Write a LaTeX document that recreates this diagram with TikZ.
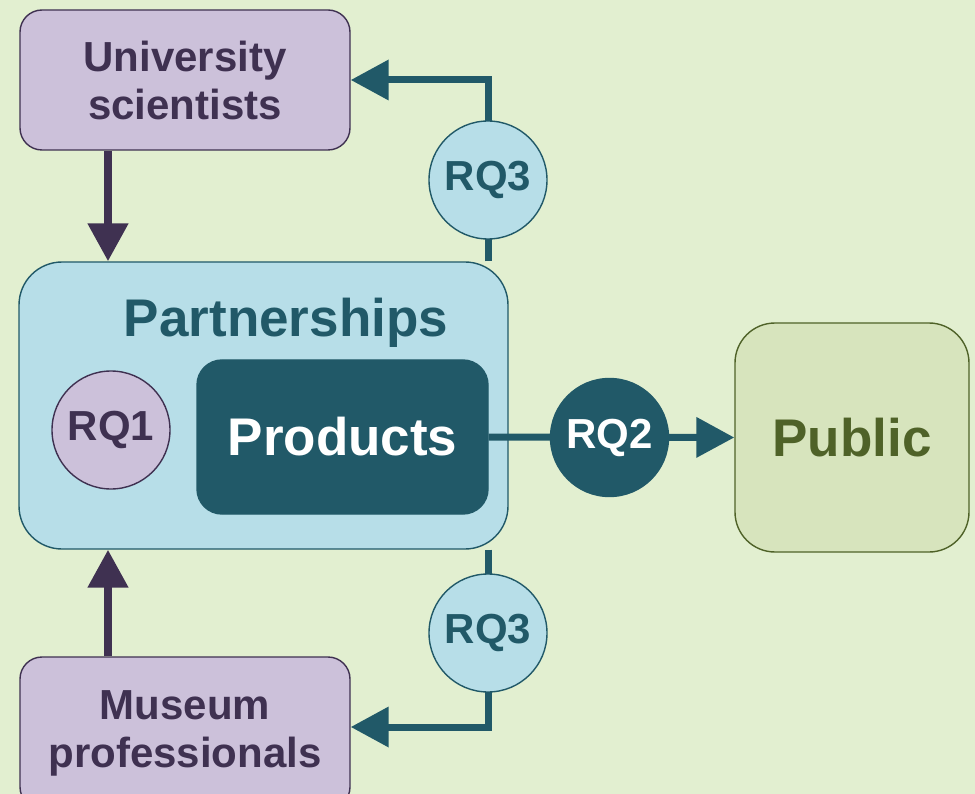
\documentclass[tikz,border=0pt]{standalone}
\usepackage{fontspec}
\setmainfont{Liberation Sans}
\usetikzlibrary{arrows.meta}
\definecolor{bgcol}{HTML}{E2EFD0}
\definecolor{purfill}{HTML}{CCC1DA}
\definecolor{purdark}{HTML}{3F3151}
\definecolor{bluefill}{HTML}{B7DEE8}
\definecolor{tealdark}{HTML}{215968}
\definecolor{greenfill}{HTML}{D7E4BD}
\definecolor{greendark}{HTML}{4F6228}
\pgfdeclarelayer{back}
\pgfsetlayers{back,main}
\tikzset{
  outline/.style={draw, line width=1.4pt, inner sep=0pt},
  purplebox/.style={outline, fill=purfill, draw=purdark, text=purdark,
    rounded corners=22pt, minimum width=330pt, minimum height=140pt,
    align=center, font=\fontsize{42}{48}\selectfont\bfseries},
  rqcircle/.style={outline, circle, minimum size=118pt,
    font=\fontsize{42}{48}\selectfont\bfseries},
  bigtext/.style={font=\fontsize{53}{60}\selectfont\bfseries},
  tealline/.style={draw=tealdark, line width=7pt,
    -{Triangle[length=38pt,width=39pt]}},
  purpleline/.style={draw=purdark, line width=8pt,
    -{Triangle[length=38pt,width=39pt]}},
}
\begin{document}
\begin{tikzpicture}[x=1pt,y=-1pt]
  \useasboundingbox (0,0) rectangle (975,794);

  % outer actors
  \node[purplebox] (US) at (185,80) {University\\scientists};
  \node[purplebox, minimum height=152pt] (MP) at (185,733) {Museum\\professionals};

  % partnership block with its product
  \node[outline, fill=bluefill, draw=tealdark, rounded corners=43pt,
        minimum width=489pt, minimum height=287pt] (P) at (263.5,405.5) {};
  \node[bigtext, text=tealdark, anchor=base] (Plab) at (286,337) {Partnerships};
  \node[outline, fill=tealdark, draw=tealdark, text=white, bigtext,
        rounded corners=25pt, minimum width=291pt, minimum height=154pt]
        (Prod) at (342.5,437) {Products};
  \node[rqcircle, fill=purfill, draw=purdark, text=purdark] (RQ1) at (111,430) {RQ1};

  % audience
  \node[outline, fill=greenfill, draw=greendark, text=greendark, bigtext,
        rounded corners=40pt, minimum width=234pt, minimum height=229pt]
        (Pub) at (852,437.5) {Public};

  % products reach the public (drawn above the partnership block)
  \draw[tealline] (Prod.east) -- (Pub.west);

  % research-question markers on the connectors
  \node[rqcircle, fill=bluefill, draw=tealdark, text=tealdark] (RQ3a) at (488,180) {RQ3};
  \node[rqcircle, fill=bluefill, draw=tealdark, text=tealdark] (RQ3b) at (488,633) {RQ3};
  \node[rqcircle, fill=tealdark, draw=tealdark, text=white] (RQ2) at (609.5,437.5) {RQ2};

  \coordinate (ax) at (108,0);
  \coordinate (mpy) at (0,727);

  \begin{pgfonlayer}{back}
    \fill[bgcol] (0,0) rectangle (975,794);
    \draw[purpleline] (US.south -| ax) -- (P.north -| ax);
    \draw[purpleline] (MP.north -| ax) -- (P.south -| ax);
    \draw[tealline] (P.north -| RQ3a.center) |- (US.east);
    \draw[tealline] (P.south -| RQ3b.center) |- (MP.east |- mpy);
  \end{pgfonlayer}
\end{tikzpicture}
\end{document}
